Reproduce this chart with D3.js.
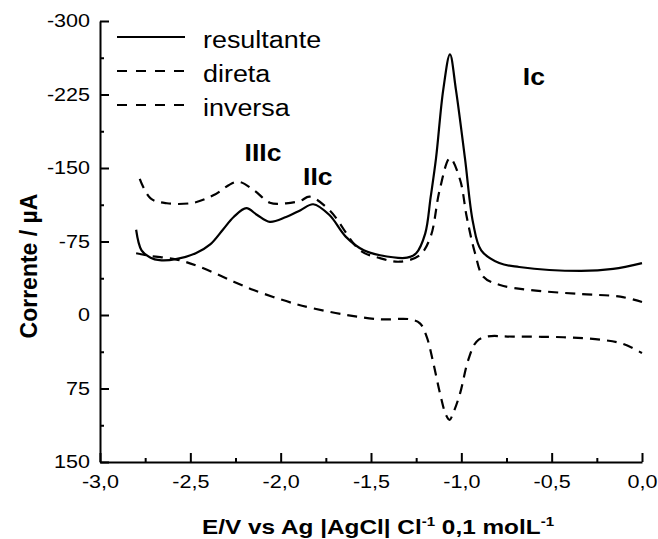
<!DOCTYPE html>
<html>
<head>
<meta charset="utf-8">
<script src="https://cdn.jsdelivr.net/npm/d3@7"></script>
<style>
body { margin: 0; background: #fff; }
svg { display: block; font-family: "Liberation Sans", Arial, sans-serif; }
</style>
</head>
<body>
<svg id="chart" width="658" height="539"></svg>
<script>
// E (V) , I (uA)
var resultante = [[-2.80,-87],[-2.77,-66],[-2.72,-58.5],[-2.67,-56],[-2.58,-57],[-2.47,-63],
	[-2.39,-72],[-2.32,-87],[-2.26,-100],[-2.19,-109],[-2.13,-102],[-2.06,-95],[-1.97,-100],
	[-1.89,-107],[-1.82,-113],[-1.73,-102],[-1.64,-80],[-1.54,-66],[-1.45,-61],[-1.30,-58.5],
	[-1.25,-63],[-1.20,-83],[-1.17,-120],[-1.14,-160],[-1.10,-230],[-1.063,-266],[-1.03,-230],
	[-0.98,-160],[-0.935,-94],[-0.89,-66],[-0.79,-53],[-0.68,-49],[-0.34,-45],[-0.16,-47],[0.0,-53]]

var direta = [[-2.78,-139],[-2.72,-119],[-2.63,-114],[-2.48,-114.6],[-2.37,-122.4],[-2.24,-136],
	[-2.15,-127.6],[-2.06,-114.6],[-1.97,-114],[-1.89,-116.6],[-1.84,-120.7],[-1.73,-107],
	[-1.56,-66],[-1.45,-58],[-1.34,-54.4],[-1.23,-61],[-1.17,-80],[-1.12,-127.6],[-1.063,-160],
	[-1.007,-138],[-0.97,-100],[-0.924,-63],[-0.878,-39],[-0.786,-30.6],[-0.62,-25.5],
	[-0.34,-21.4],[-0.12,-18.7],[0.0,-13.3]]

var inversa = [[-2.80,-63],[-2.72,-60.2],[-2.58,-56.8],[-2.45,-49.3],[-2.26,-34],[-2.15,-25.5],
	[-1.93,-11.9],[-1.82,-6.8],[-1.635,0],[-1.45,4.4],[-1.284,4.4],[-1.229,8.5],[-1.192,22],
	[-1.155,49],[-1.118,80],[-1.085,102],[-1.065,107],[-1.045,100],[-1.007,80],[-0.962,46],
	[-0.916,27.2],[-0.86,22.1],[-0.713,22.1],[-0.436,22.7],[-0.215,25.5],[-0.104,29.6],[0.0,38.8]]

var seriesNames = ['resultante', 'direta', 'inversa']
var peakNames = ['IIIc', 'IIc', 'Ic']
var peakPos = [[-2.20,-157], [-1.876,-133], [-0.66,-235]]

var xTicks = [-3.0, -2.5, -2.0, -1.5, -1.0, -0.5, 0.0]
var xMinor = [-2.75, -2.25, -1.75, -1.25, -0.75, -0.25]
var yTicks = [-300, -225, -150, -75, 0, 75, 150]
var yMinor = [-262.5, -187.5, -112.5, -37.5, 37.5, 112.5]

var STRETCH = 1.16,
	LINE_COLOR = '#000'

var svg = d3.select('#chart')

var x = d3.scaleLinear().domain([-3, 0]).range([100, 642])
var y = d3.scaleLinear().domain([-300, 150]).range([21, 462])

// axes, ticks point inwards
var xAxis = svg.append('g').attr('transform', 'translate(0,462)')
	.call(d3.axisBottom(x).tickValues(xTicks).tickSize(-9).tickSizeOuter(0).tickPadding(0)
		.tickFormat(function(d){ return d.toFixed(1).replace('.', ',') }))
xAxis.selectAll('text').attr('y', 26).attr('dy', 0)

svg.append('g').attr('transform', 'translate(0,462)')
	.call(d3.axisBottom(x).tickValues(xMinor).tickSize(-4).tickSizeOuter(0).tickFormat(''))
	.select('.domain').remove()

var yAxis = svg.append('g').attr('transform', 'translate(100,0)')
	.call(d3.axisLeft(y).tickValues(yTicks).tickSize(-9).tickSizeOuter(0).tickPadding(8.6)
		.tickFormat(function(d){ return String(d) }))

svg.append('g').attr('transform', 'translate(100,0)')
	.call(d3.axisLeft(y).tickValues(yMinor).tickSize(-4).tickSizeOuter(0).tickFormat(''))
	.select('.domain').remove()

svg.selectAll('.domain, .tick line')
	.attr('stroke', LINE_COLOR)
	.attr('stroke-width', 2)

svg.selectAll('.tick text')
	.attr('font-family', '"Liberation Sans", Arial, sans-serif')
	.attr('font-size', 18.6)
	.attr('fill', '#000')
	.attr('transform', 'scale(' + STRETCH + ',1)')

// curves
var line = d3.line()
	.x(function(d){ return x(d[0]) })
	.y(function(d){ return y(d[1]) })
	.curve(d3.curveCatmullRom.alpha(0.5))

var curves = [resultante, direta, inversa]
svg.append('g').selectAll('path.curve')
	.data(curves)
	.enter().append('path')
		.attr('class', 'curve')
		.attr('d', line)
		.attr('fill', 'none')
		.attr('stroke', LINE_COLOR)
		.attr('stroke-width', 2.2)
		.attr('stroke-dasharray', function(d, i){ return i == 0 ? null : '10,7' })

// legend
var legend = svg.append('g').selectAll('g.leg')
	.data(seriesNames)
	.enter().append('g')
		.attr('class', 'leg')
		.attr('transform', function(d, i){ return 'translate(0,' + (37 + i * 34) + ')' })

legend.append('line')
	.attr('x1', 117).attr('x2', 185)
	.attr('stroke', LINE_COLOR)
	.attr('stroke-width', 2.2)
	.attr('stroke-dasharray', function(d, i){ return i == 0 ? null : '10,9' })

legend.append('text')
	.text(function(d){ return d })
	.attr('transform', 'translate(203,11) scale(1.17,1)')
	.attr('font-size', 23)

// peak labels
svg.append('g').selectAll('text.peak')
	.data(peakNames)
	.enter().append('text')
		.attr('class', 'peak')
		.text(function(d){ return d })
		.attr('transform', function(d, i){
			return 'translate(' + x(peakPos[i][0]) + ',' + y(peakPos[i][1]) + ') scale(1.13,1)'
		})
		.attr('font-size', 23.5)
		.attr('font-weight', 'bold')

// axis titles
var xt = svg.append('text')
	.attr('transform', 'translate(378,534) scale(' + STRETCH + ',1)')
	.attr('text-anchor', 'middle')
	.attr('font-size', 21)
	.attr('font-weight', 'bold')
xt.append('tspan').text('E/V vs Ag |AgCl| Cl')
xt.append('tspan').text('-1').attr('font-size', 13).attr('dy', -8)
xt.append('tspan').text(' 0,1 molL').attr('dy', 8)
xt.append('tspan').text('-1').attr('font-size', 13).attr('dy', -8)

svg.append('text')
	.attr('transform', 'translate(37,266) rotate(-90)')
	.attr('text-anchor', 'middle')
	.attr('font-size', 23)
	.attr('font-weight', 'bold')
	.text('Corrente / µA')
</script>
</body>
</html>
